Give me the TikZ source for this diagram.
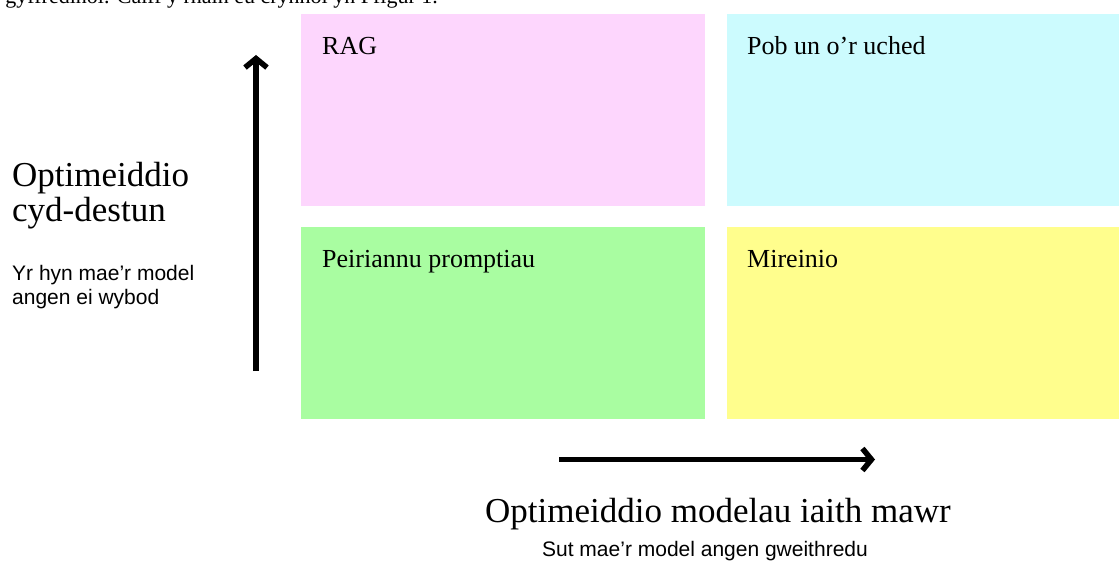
\documentclass[tikz,border=0pt]{standalone}
\usepackage{fontspec}
\setmainfont{Liberation Serif}
\setsansfont{Liberation Sans}
\usetikzlibrary{arrows.meta}

\definecolor{ragpink}{RGB}{253,214,253}
\definecolor{allcyan}{RGB}{204,251,254}
\definecolor{promptgreen}{RGB}{169,253,161}
\definecolor{tuneyellow}{RGB}{255,254,141}

\begin{document}
\begin{tikzpicture}[
	x=1pt, y=-1pt,
	quad/.style={
		rectangle,
		draw=none,
		anchor=north west,
		inner sep=0pt,
		minimum height=192pt
	},
	quadtext/.style={
		anchor=base west,
		inner sep=0pt,
		font=\fontsize{26}{30}\selectfont
	},
	axistitle/.style={
		inner sep=0pt,
		font=\fontsize{35}{35}\selectfont
	},
	axisnote/.style={
		inner sep=0pt,
		font=\sffamily\fontsize{21}{24}\selectfont
	},
	axis/.style={
		line width=5.5pt,
		-{Straight Barb[length=9pt,width=22pt]}
	},
]

\useasboundingbox (0,0) rectangle (1119,561);
\clip (0,0) rectangle (1119,561);

\node[anchor=base east, inner sep=0pt, font=\fontsize{22}{22}\selectfont]
	(page_text) at (438,4) {yn gyffredinol. Caiff y rhain eu crynhoi yn Ffigur 1.};

\node[quad, fill=ragpink, minimum width=404pt] (rag) at (301,14) {};
\node[quad, fill=allcyan, minimum width=392pt] (all) at (727,14) {};
\node[quad, fill=promptgreen, minimum width=404pt] (prompt) at (301,227) {};
\node[quad, fill=tuneyellow, minimum width=392pt] (tune) at (727,227) {};

\node[quadtext] (rag_text) at (322,55) {RAG};
\node[quadtext] (all_text) at (747,55) {Pob un o’r uched};
\node[quadtext] (prompt_text) at (322,268) {Peiriannu promptiau};
\node[quadtext] (tune_text) at (747,268) {Mireinio};

% the base anchor of a two-line node sits on its last line
\node[axistitle, anchor=base west, align=left] (context_title) at (12,222)
	{Optimeiddio\\cyd-destun};
\node[axisnote, anchor=base west, align=left] (context_note) at (12,305)
	{Yr hyn mae’r model\\angen ei wybod};

\node[axistitle, anchor=base] (llm_title) at (718,522)
	{Optimeiddio modelau iaith mawr};
\node[axisnote, anchor=base] (llm_note) at (705,556)
	{Sut mae’r model angen gweithredu};

\coordinate (up_start) at (256,371);
\coordinate (up_end) at (256,55);
\coordinate (right_start) at (559,459.5);
\coordinate (right_end) at (875,459.5);

\draw[axis] (up_start) -- (up_end);
\draw[axis] (right_start) -- (right_end);

\end{tikzpicture}
\end{document}
